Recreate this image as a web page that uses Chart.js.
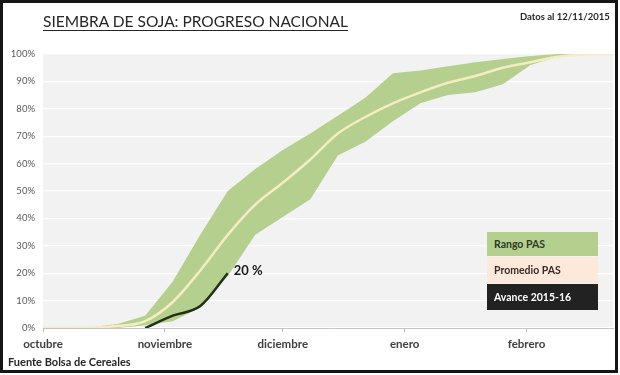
<!DOCTYPE html>
<html>
<head>
<meta charset="utf-8">
<script src="https://cdn.jsdelivr.net/npm/chart.js@4/dist/chart.umd.min.js"></script>
<style>
  body { margin: 0; background: #fff; }
  #marco { position: absolute; left: 0; top: 0; width: 618px; height: 373px; border: 3px solid #161616; box-sizing: border-box; }
  canvas { position: absolute; left: 0; top: 0; }
  .txt { position: absolute; font-family: Lato, "Open Sans", sans-serif; white-space: nowrap; }
  #titulo { left: 43px; top: 12px; font-size: 15.5px; color: #262626; text-decoration: underline; text-underline-offset: 3px; text-decoration-thickness: 1px; }
  #fecha { left: 520px; top: 11px; font-size: 9.5px; font-weight: bold; color: #262626; }
  #fuente { left: 8px; top: 355px; font-size: 11px; font-weight: bold; color: #262626; }
  .ley { position: absolute; left: 487px; width: 111px; font-family: Lato, "Open Sans", sans-serif; font-size: 10.5px; font-weight: bold; box-sizing: border-box; padding-left: 7px; display: flex; align-items: center; }
</style>
</head>
<body>
<div id="marco"></div>
<canvas id="myChart" width="620" height="375"></canvas>
<div class="txt" id="titulo">SIEMBRA DE SOJA: PROGRESO NACIONAL</div>
<div class="txt" id="fecha">Datos al 12/11/2015</div>
<div class="txt" id="fuente">Fuente Bolsa de Cereales</div>
<div class="ley" style="top:232px;height:24px;background:#b5cf8e;color:#2f3a25;">Rango PAS</div>
<div class="ley" style="top:257px;height:26px;background:#fde9d9;color:#3b2b2b;">Promedio PAS</div>
<div class="ley" style="top:284px;height:26px;background:#222222;color:#ffffff;">Avance 2015-16</div>
<script>
// dias desde el 1 de octubre (datos semanales)
let dias     = [-2, 5, 12, 19, 26, 33, 40, 47, 54, 61, 68, 75, 82, 89, 96, 103, 110, 117, 124, 131, 138, 145];
let maximo   = [0, 0, 0.3, 1.5, 4.5, 17, 34, 50, 58, 65, 71, 77.5, 84, 93, 94, 95.5, 97, 98.2, 99.3, 100, 100, 100];
let minimo   = [0, 0, 0, 0, 1, 2.5, 7.5, 19, 34, 40.5, 47, 63, 68, 75.5, 82, 85, 86, 89, 96, 99, 100, 100];
let promedio = [0, 0, 0.2, 0.7, 2.5, 9.5, 21, 34, 45, 53, 61.5, 71, 77, 82, 86, 89.5, 92, 95, 97, 99, 99.8, 100];
let avance   = [null, null, null, null, 0, 4.5, 8, 20, null, null, null, null, null, null, null, null, null, null, null, null, null, null];

let meses  = ['octubre', 'noviembre', 'diciembre', 'enero', 'febrero'];
let mesDia = [0, 31, 61, 92, 123];

function puntos(valores) {
    return dias.map((d, i) => ({ x: d, y: valores[i] }));
}

// fondo gris del area del grafico
let fondo = {
    id: 'fondo',
    beforeDraw(chart) {
        let a = chart.chartArea;
        chart.ctx.save();
        chart.ctx.fillStyle = '#f2f2f2';
        chart.ctx.fillRect(a.left, a.top, a.right - a.left, a.bottom - a.top);
        chart.ctx.restore();
    }
};

// etiqueta del ultimo valor de avance
let etiqueta = {
    id: 'etiqueta',
    afterDatasetsDraw(chart) {
        let meta = chart.getDatasetMeta(0);
        let idx = avance.map((v, i) => v === null ? -1 : i).filter(i => i >= 0).pop();
        let pt = meta.data[idx];
        let ctx = chart.ctx;
        ctx.save();
        ctx.font = 'bold 13px Lato, "Open Sans", sans-serif';
        ctx.fillStyle = '#1a1a1a';
        ctx.textBaseline = 'middle';
        ctx.fillText(avance[idx] + ' %', pt.x + 6, pt.y - 2);
        ctx.restore();
    }
};

var ctx = document.getElementById('myChart').getContext('2d');
var chart = new Chart(ctx, {
    type: 'line',
    data: {
        datasets: [{
            label: 'Avance 2015-16',
            data: puntos(avance),
            borderColor: '#223017',
            borderWidth: 2.5,
            pointRadius: 0,
            cubicInterpolationMode: 'monotone',
            spanGaps: false
        }, {
            label: 'Promedio PAS',
            data: puntos(promedio),
            borderColor: '#f6ecc2',
            borderWidth: 2.5,
            pointRadius: 0,
            cubicInterpolationMode: 'monotone'
        }, {
            label: 'Rango PAS',
            data: puntos(maximo),
            borderColor: 'transparent',
            borderWidth: 0,
            backgroundColor: '#b5cf8e',
            pointRadius: 0,
            fill: '+1'
        }, {
            label: 'min',
            data: puntos(minimo),
            borderColor: 'transparent',
            borderWidth: 0,
            pointRadius: 0,
            fill: false
        }]
    },
    options: {
        responsive: false,
        animation: false,
        layout: { padding: { left: 0, top: 54, right: 7, bottom: 0 } },
        plugins: { legend: { display: false }, tooltip: { enabled: false } },
        scales: {
            x: {
                type: 'linear',
                min: 0,
                max: 145,
                afterFit: scale => { scale.height = 47; },
                afterBuildTicks: scale => { scale.ticks = mesDia.map(v => ({ value: v })); },
                grid: { drawOnChartArea: false, drawTicks: true, tickLength: 4, color: '#b8b8b8' },
                border: { color: '#c4c4c4' },
                ticks: {
                    padding: 5,
                    maxRotation: 0,
                    autoSkip: false,
                    color: '#404040',
                    font: { family: 'Lato, "Open Sans", sans-serif', size: 11.5, weight: 'bold' },
                    callback: v => meses[mesDia.indexOf(v)]
                }
            },
            y: {
                min: 0,
                max: 100,
                afterFit: scale => { scale.width = 43; },
                grid: { color: '#ffffff', lineWidth: 1.3, drawTicks: false },
                border: { display: false },
                ticks: {
                    stepSize: 10,
                    padding: 8,
                    color: '#595959',
                    font: { family: 'Lato, "Open Sans", sans-serif', size: 9.5 },
                    callback: v => v + '%'
                }
            }
        }
    },
    plugins: [fondo, etiqueta]
});
</script>
</body>
</html>
